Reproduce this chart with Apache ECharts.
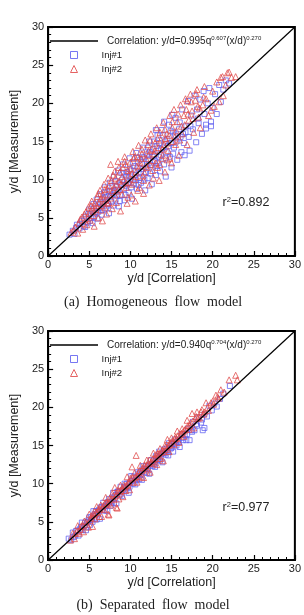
<!DOCTYPE html>
<html>
<head>
<meta charset="utf-8">
<script src="https://cdn.jsdelivr.net/npm/echarts@6/dist/echarts.min.js"></script>
<style>
  html, body { margin: 0; padding: 0; background: #fff; }
  #chart { width: 304px; height: 615px; }
</style>
</head>
<body>
<div id="chart"></div>
<script>
// correlation line y = x
const corrLine = [[0, 0], [30, 30]];

// (a) homogeneous flow model: [correlation, measurement]
const injOneA = [
  [2.6,2.8],[3.0,3.3],[3.2,2.9],[3.5,4.1],[3.8,3.6],[4.1,4.6],[4.3,3.9],[4.6,5.2],[4.8,4.4],[5.0,6.1],
  [5.2,5.0],[5.4,4.3],[5.5,6.8],[5.7,5.6],[5.9,7.4],[6.0,4.9],[6.2,6.3],[6.4,8.1],[6.5,5.4],[6.7,7.0],
  [6.9,9.0],[7.0,6.2],[7.2,7.8],[7.4,5.6],[7.5,9.6],[7.7,8.4],[7.9,6.6],[8.0,10.4],[8.2,7.4],[8.3,9.1],
  [8.5,11.2],[8.6,6.5],[8.8,8.0],[9.0,10.0],[9.1,12.0],[9.3,7.3],[9.4,9.2],[9.6,11.0],[9.8,8.3],[9.9,12.8],
  [10.0,10.3],[10.2,7.5],[10.4,9.5],[10.5,11.8],[10.7,13.5],[10.8,8.8],[11.0,10.8],[11.2,12.6],[11.3,9.6],[11.5,14.2],
  [11.6,11.4],[11.8,8.6],[12.0,13.3],[12.1,10.2],[12.3,15.0],[12.5,11.9],[12.6,9.4],[12.8,14.0],[13.0,12.4],[13.1,10.6],
  [13.3,15.8],[13.5,13.0],[13.6,11.1],[13.8,16.5],[14.0,14.2],[14.1,12.0],[14.3,10.4],[14.5,15.3],[14.7,17.2],[14.8,13.0],
  [15.0,11.6],[15.2,16.2],[15.3,14.2],[15.5,18.1],[15.7,12.6],[15.8,15.4],[16.0,17.5],[16.2,13.6],[16.3,19.2],[16.5,14.8],
  [16.6,13.2],[16.8,17.0],[17.0,20.3],[17.1,15.6],[17.2,13.8],[17.4,18.4],[17.6,16.6],[17.8,21.0],[18.0,14.9],[18.1,19.2],
  [18.3,17.4],[18.5,20.5],[18.7,16.0],[18.9,21.6],[19.0,18.6],[19.2,17.2],[19.4,20.0],[19.6,22.0],[19.8,17.6],[20.0,19.4],
  [20.3,21.2],[20.5,18.6],[20.8,22.4],[21.0,20.2],[21.3,21.8],[21.6,23.0],[22.0,22.6],[15.1,18.5],[14.1,17.6],[13.1,16.5],
  [19.2,16.7],[19.8,17.0],[5.3,5.9],[5.8,6.5],[6.1,5.8],[6.6,6.8],[6.8,8.3],[7.1,7.4],[7.3,6.8],[7.6,7.9],
  [7.8,9.2],[8.1,8.6],[8.4,7.9],[8.7,9.6],[8.9,10.9],[9.2,8.8],[9.5,10.4],[9.7,9.5],[10.1,11.2],[10.3,10.0],
  [10.6,9.9],[10.9,11.6],[11.1,10.2],[11.4,12.1],[11.7,12.9],[11.9,11.0],[12.2,12.6],[12.4,13.6],[12.7,11.6],[12.9,13.2],
  [13.2,14.4],[13.4,12.2],[13.7,14.0],[14.2,15.0],[14.4,13.6],[14.9,14.8],[15.4,15.8],[15.9,16.6],[16.4,16.0],
  [3.4,3.7],[3.9,4.2],[4.4,4.8],[4.5,3.8],[4.9,5.5],[5.1,4.6],[5.6,5.1],[6.3,7.1],[6.6,6.0],[6.9,7.7],
  [7.2,6.6],[7.5,8.5],[7.7,7.1],[8.0,8.2],[8.2,9.8],[8.5,8.7],[8.7,7.2],[8.9,9.3],[9.2,10.8],[9.4,8.0],
  [9.6,9.9],[9.9,11.4],[10.1,9.0],[10.3,12.2],[10.6,10.6],[10.8,12.9],[11.0,9.3],[11.3,11.0],[11.5,13.0],[11.7,10.0],
  [12.0,12.0],[12.2,14.2],[12.4,10.8],[12.7,13.0],[12.9,15.0],[13.2,11.8],[13.5,14.8],[13.7,13.2],[14.0,15.8],[14.3,12.8],
  [14.6,14.4],[14.9,16.4],[15.2,13.4],[15.6,15.0],[16.1,15.6],[16.7,16.2],[17.3,17.0],[18.2,18.0]
];
const injTwoA = [
  [2.8,3.1],[3.3,3.8],[3.6,3.0],[3.9,4.8],[4.2,3.5],[4.4,5.5],[4.7,4.1],[4.9,6.4],[5.1,4.7],[5.3,7.2],
  [5.5,5.3],[5.6,3.9],[5.8,6.1],[6.0,7.8],[6.1,5.0],[6.3,8.6],[6.5,6.6],[6.6,4.6],[6.8,9.4],[7.0,7.3],
  [7.1,5.5],[7.3,10.2],[7.5,8.0],[7.6,12.0],[7.8,6.2],[8.0,9.0],[8.1,11.1],[8.3,7.0],[8.5,12.4],[8.6,9.8],
  [8.8,5.9],[9.0,8.1],[9.1,11.6],[9.3,13.0],[9.5,9.0],[9.6,6.9],[9.8,10.6],[10.0,12.3],[10.1,8.0],[10.3,13.7],
  [10.5,10.0],[10.6,7.2],[10.8,11.8],[11.0,14.5],[11.1,9.0],[11.3,12.8],[11.5,10.5],[11.6,8.2],[11.8,15.2],[12.0,11.6],
  [12.2,13.8],[12.3,9.3],[12.5,16.0],[12.7,12.5],[12.8,10.2],[13.0,14.8],[13.2,16.8],[13.3,11.6],[13.5,9.9],[13.7,15.2],
  [13.9,13.2],[14.0,17.5],[14.2,11.0],[14.4,16.0],[14.6,13.8],[14.8,18.4],[15.0,12.2],[15.1,16.8],[15.3,19.2],[15.5,14.6],
  [15.7,17.6],[15.9,13.2],[16.1,19.8],[16.3,16.0],[16.5,18.4],[16.7,20.6],[16.9,14.6],[17.1,17.8],[17.3,21.2],[17.5,19.0],
  [17.7,16.2],[17.9,20.4],[18.1,21.8],[18.3,18.2],[18.5,16.8],[18.8,19.8],[19.0,22.2],[19.2,20.6],[19.5,18.4],[19.8,19.1],
  [20.0,21.6],[20.2,19.6],[20.5,22.8],[20.8,20.2],[21.0,23.4],[21.3,21.0],[21.6,22.4],[21.8,24.0],[22.3,23.4],[22.8,23.5],
  [22.0,24.1],[21.2,23.5],[18.0,21.3],[16.9,20.3],[5.0,5.6],[5.4,6.3],[5.7,7.0],[6.2,6.9],[6.4,7.5],[6.7,8.0],
  [6.9,6.4],[7.2,8.8],[7.4,7.0],[7.7,9.9],[7.9,8.6],[8.2,10.2],[8.4,8.5],[8.7,11.0],[8.9,9.4],[9.2,10.0],
  [9.4,12.0],[9.7,11.2],[9.9,9.6],[10.2,10.8],[10.4,12.8],[10.7,11.0],[10.9,13.0],[11.2,11.8],[11.4,13.4],[11.7,10.9],
  [11.9,12.8],[12.1,14.6],[12.4,12.0],[12.6,14.0],[12.9,13.4],[13.1,12.2],[13.4,14.2],[13.6,16.2],[13.8,12.8],[14.1,14.6],
  [14.3,15.4],[14.5,12.6],[14.7,15.8],[15.2,15.0],[15.6,16.4],[16.0,15.2],[16.6,17.2],[17.0,18.6],[17.6,18.0],[18.4,19.4],
  [3.1,3.4],[3.7,4.3],[4.1,5.1],[4.3,4.3],[4.6,5.8],[4.8,4.9],[5.2,6.6],[5.5,5.8],[5.9,6.6],[6.1,8.2],
  [6.4,6.0],[6.7,7.5],[6.9,8.7],[7.2,6.9],[7.4,9.2],[7.6,7.6],[7.9,10.6],[8.1,8.0],[8.3,9.4],[8.6,11.6],
  [8.8,8.7],[9.0,10.4],[9.3,12.4],[9.5,9.6],[9.7,7.7],[10.0,11.4],[10.2,9.4],[10.5,13.0],[10.7,10.4],[10.9,8.6],
  [11.2,12.2],[11.4,14.0],[11.6,9.9],[11.9,11.8],[12.2,13.2],[12.4,15.2],[12.7,11.2],[13.0,13.8],[13.3,15.4],[13.6,12.0],
  [13.9,14.0],[14.2,16.6],[14.5,14.8],[14.8,12.8],[15.1,17.6],[15.4,15.6],[15.8,18.6],[16.2,17.0],[16.8,19.2],[17.4,20.2],
  [18.2,19.6],[18.9,20.8]
];

// (b) separated flow model
const injOneB = [
  [2.5,2.8],[2.8,2.6],[3.0,3.6],[3.3,3.2],[3.4,3.8],[3.7,3.2],[3.9,4.1],[4.1,4.9],[4.2,3.9],[4.5,4.9],
  [4.6,3.9],[4.8,5.0],[5.0,5.6],[5.1,4.6],[5.3,5.3],[5.5,6.4],[5.6,5.4],[5.8,6.4],[5.9,5.3],[6.1,6.4],
  [6.3,5.4],[6.4,6.9],[6.6,6.5],[6.7,7.5],[6.9,6.5],[7.1,7.3],[7.2,6.4],[7.4,8.0],[7.5,7.6],[7.7,7.4],
  [7.9,8.8],[8.0,7.5],[8.2,8.5],[8.3,7.4],[8.5,9.0],[8.7,8.5],[8.8,9.6],[9.0,8.4],[9.1,9.2],[9.3,10.0],
  [9.5,9.1],[9.6,10.0],[9.8,8.8],[9.9,10.1],[10.1,11.0],[10.3,10.0],[10.4,10.9],[10.6,9.9],[10.7,10.7],[10.9,11.5],
  [11.1,10.6],[11.2,11.5],[11.4,10.5],[11.5,12.3],[11.7,11.5],[11.9,12.3],[12.0,11.4],[12.2,12.3],[12.3,11.3],[12.5,13.1],
  [12.7,12.3],[12.8,13.0],[13.0,12.2],[13.1,13.6],[13.3,13.1],[13.5,14.2],[13.6,13.0],[13.8,13.9],[13.9,12.8],[14.1,14.5],
  [14.3,13.8],[14.4,14.6],[14.6,13.7],[14.7,15.3],[14.9,14.6],[15.1,15.2],[15.2,14.2],[15.4,15.8],[15.6,15.0],[15.8,15.7],
  [16.0,14.8],[16.2,16.5],[16.4,15.7],[16.6,16.4],[16.8,15.7],[17.0,17.2],[17.2,15.7],[17.4,17.0],[17.6,18.1],[17.8,17.0],
  [18.0,17.8],[18.3,18.7],[18.6,18.0],[18.8,17.0],[19.0,19.1],[19.3,18.8],[19.6,20.2],[19.9,19.6],[20.2,20.5],[20.5,20.1],
  [20.9,21.1],[21.3,21.8],[22.1,22.8],[4.9,5.2],[5.7,6.0],[6.5,6.9],[7.0,7.1],[7.8,8.2],[8.4,8.9],[9.2,9.5],
  [9.7,9.6],[10.5,10.4],[11.0,11.3],[11.8,11.9],[12.6,12.5],[13.2,13.4],[14.0,14.1],[14.8,14.9],[15.5,15.4],[19.0,17.3],
  [3.1,3.0],[3.6,3.9],[4.0,4.3],[4.4,4.5],[4.7,4.3],[5.2,5.6],[5.4,5.0],[6.0,6.1],[6.2,6.6],[6.8,7.0],
  [7.3,7.6],[7.6,7.1],[8.1,8.0],[8.6,8.9],[8.9,8.7],[9.4,9.6],[9.9,9.6],[10.2,10.4],[10.8,10.5],[11.3,11.2],
  [11.6,11.9],[12.1,11.9],[12.4,12.6],[12.9,12.6],[13.4,13.2],[13.7,13.8],[14.2,14.0],[14.5,14.2],[15.0,14.7],[15.3,15.2],
  [15.9,15.5],[16.3,16.0],[16.9,16.5],[17.5,16.8],[18.1,17.6],[18.7,18.4]
];
const injTwoB = [
  [2.7,2.6],[3.0,3.5],[3.2,2.8],[3.5,3.7],[3.6,4.5],[3.8,3.5],[4.0,4.4],[4.3,3.7],[4.4,5.1],[4.7,4.7],
  [4.9,4.3],[5.0,6.0],[5.2,5.5],[5.4,4.4],[5.5,6.1],[5.7,5.4],[5.9,7.0],[6.0,6.2],[6.2,5.7],[6.4,7.2],
  [6.5,5.7],[6.7,7.1],[6.8,6.6],[7.0,8.2],[7.2,7.3],[7.3,6.0],[7.5,8.1],[7.6,7.2],[7.8,8.7],[8.0,7.9],
  [8.1,9.5],[8.3,6.9],[8.4,8.7],[8.6,8.0],[8.8,9.8],[8.9,9.1],[9.1,8.3],[9.2,9.8],[9.4,9.1],[9.6,10.9],
  [9.7,9.8],[9.9,9.2],[10.0,10.7],[10.2,12.2],[10.4,10.2],[10.5,11.4],[10.7,13.7],[10.8,10.2],[11.0,11.4],[11.2,12.4],
  [11.3,10.9],[11.5,12.1],[11.6,10.8],[11.8,12.0],[12.0,13.1],[12.1,11.8],[12.3,13.1],[12.4,11.5],[12.6,12.9],[12.8,14.0],
  [12.9,12.7],[13.1,13.8],[13.2,12.5],[13.4,13.6],[13.6,14.6],[13.7,13.3],[13.9,14.4],[14.0,13.0],[14.2,15.0],[14.4,14.5],
  [14.5,15.8],[14.7,14.2],[14.8,15.2],[15.0,16.0],[15.3,15.1],[15.5,16.1],[15.7,16.9],[15.9,15.4],[16.1,16.4],[16.3,17.2],
  [16.5,16.2],[16.7,17.2],[16.9,18.3],[17.1,17.1],[17.3,18.0],[17.5,19.2],[17.7,17.3],[17.9,18.5],[18.1,19.4],[18.4,18.6],
  [18.7,19.7],[19.0,19.4],[19.2,20.6],[19.5,19.6],[19.8,20.6],[20.1,20.4],[20.4,21.6],[20.7,21.2],[21.0,22.3],[21.4,22.0],
  [22.0,23.6],[22.8,24.2],[5.3,5.8],[6.1,6.6],[6.9,7.4],[7.7,8.0],[8.5,9.1],[9.3,9.6],[10.1,10.6],[10.9,11.0],
  [11.7,12.4],[12.5,12.7],[13.3,13.9],[14.1,14.2],[14.9,15.4],[15.6,15.9],[16.4,16.8],[17.2,17.6],[18.0,18.8],[18.9,19.1],
  [23.0,23.6],[8.4,6.8],[7.4,5.9],
  [3.3,3.5],[3.9,4.0],[4.2,4.5],[4.6,5.0],[5.1,5.2],[5.6,5.9],[5.8,6.2],[6.3,6.7],[6.6,6.8],[7.1,7.6],
  [7.4,7.5],[7.9,8.4],[8.2,8.4],[8.7,9.0],[9.0,9.4],[9.5,9.8],[9.8,10.2],[10.3,10.8],[10.6,10.9],[11.1,11.7],
  [11.4,11.7],[11.9,12.3],[12.2,12.6],[12.7,13.2],[13.0,13.3],[13.5,14.0],[13.8,14.1],[14.3,14.8],[14.6,15.0],[15.1,15.6],
  [15.4,15.9],[15.8,16.3],[16.2,16.6],[16.6,17.0],[17.0,17.6],[17.6,18.2],[18.2,18.6],[18.6,19.4],[19.4,20.0],[20.0,20.8],
  [20.6,21.4]
];

const corrText = {
  corrA: 'Correlation: y/d=0.995q{s|0.607}(x/d){s|0.270}',
  corrB: 'Correlation: y/d=0.940q{s|0.704}(x/d){s|0.270}'
};

const blue = '#5f5ff0';
const red = '#e04848';
const font = 'Liberation Sans';

const chart = echarts.init(document.getElementById('chart'));

function axisX(gridIndex) {
  return {
    type: 'value', gridIndex: gridIndex, min: 0, max: 30, interval: 5,
    name: 'y/d [Correlation]', nameLocation: 'middle', nameGap: 16,
    nameTextStyle: { color: '#222', fontSize: 12.5, fontFamily: font },
    axisLine: { show: true, lineStyle: { color: '#000', width: 2 } },
    axisTick: { show: true, inside: true, length: 5, lineStyle: { color: '#000', width: 1.2 } },
    minorTick: { show: true, splitNumber: 5, length: 3, lineStyle: { color: '#000', width: 1 } },
    axisLabel: { color: '#222', fontSize: 11, fontFamily: font, margin: 3 },
    splitLine: { show: false }
  };
}

function axisY(gridIndex) {
  return {
    type: 'value', gridIndex: gridIndex, min: 0, max: 30, interval: 5,
    name: 'y/d [Measurement]', nameLocation: 'middle', nameGap: 24,
    nameTextStyle: { color: '#222', fontSize: 12.5, fontFamily: font },
    axisLine: { show: true, lineStyle: { color: '#000', width: 2 } },
    axisTick: { show: true, inside: true, length: 5, lineStyle: { color: '#000', width: 1.2 } },
    minorTick: { show: true, splitNumber: 5, length: 3, lineStyle: { color: '#000', width: 1 } },
    axisLabel: { color: '#222', fontSize: 11, fontFamily: font, margin: 4 },
    splitLine: { show: false }
  };
}

function scatter(name, idx, data, symbol, size, color) {
  return {
    name: name, type: 'scatter', xAxisIndex: idx, yAxisIndex: idx,
    data: data, symbol: symbol, symbolSize: size,
    itemStyle: { color: 'rgba(0,0,0,0)', borderColor: color, borderWidth: 0.9, opacity: 0.85 },
    emphasis: { disabled: true }, z: 2
  };
}

function lineLegend(name, top) {
  return {
    data: [{ name: name, icon: 'rect', itemStyle: { color: '#000' } }],
    left: 50, top: top, padding: 0, selectedMode: false,
    itemWidth: 48, itemHeight: 1.5,
    formatter: n => corrText[n],
    textStyle: {
      color: '#222', fontSize: 10, fontFamily: font, lineHeight: 12, padding: [0, 0, 0, 4],
      rich: { s: { fontSize: 6, fontFamily: font, color: '#222', verticalAlign: 'top', lineHeight: 9 } }
    }
  };
}

function markerLegend(top) {
  return {
    data: [
      { name: 'Inj#1', icon: 'rect', itemStyle: { color: 'rgba(0,0,0,0)', borderColor: blue, borderWidth: 1 } },
      { name: 'Inj#2', icon: 'triangle', itemStyle: { color: 'rgba(0,0,0,0)', borderColor: red, borderWidth: 1 } }
    ],
    orient: 'vertical', left: 70, top: top, padding: 0, selectedMode: false,
    itemWidth: 7, itemHeight: 7, itemGap: 2,
    textStyle: { color: '#222', fontSize: 9.5, fontFamily: font, lineHeight: 12, padding: [0, 0, 0, 19] }
  };
}

function rSquared(y, value) {
  return {
    type: 'text', x: 246, y: y,
    style: {
      text: '{r|r}{s|2}{r|=' + value + '}', align: 'center', verticalAlign: 'middle',
      rich: {
        r: { fontSize: 12.5, fontFamily: font, fill: '#222', color: '#222', lineHeight: 14 },
        s: { fontSize: 7.5, fontFamily: font, fill: '#222', color: '#222', verticalAlign: 'top', lineHeight: 10 }
      }
    }
  };
}

function caption(y, text) {
  return {
    type: 'text', x: 153, y: y,
    style: { text: text, align: 'center', verticalAlign: 'middle', fill: '#222',
      fontSize: 14, fontFamily: 'Liberation Serif' }
  };
}

chart.setOption({
  animation: false,
  grid: [
    { left: 43, top: 27, width: 253, height: 229, show: true, borderColor: '#000', borderWidth: 2 },
    { left: 43, top: 331, width: 253, height: 229, show: true, borderColor: '#000', borderWidth: 2 }
  ],
  xAxis: [axisX(0), axisX(1)],
  yAxis: [axisY(0), axisY(1)],
  legend: [lineLegend('corrA', 35), markerLegend(49), lineLegend('corrB', 339), markerLegend(353)],
  graphic: [
    rSquared(203, '0.892'),
    rSquared(508, '0.977'),
    caption(302, '(a)  Homogeneous  flow  model'),
    caption(605, '(b)  Separated  flow  model')
  ],
  series: [
    scatter('Inj#1', 0, injOneA, 'rect', 5, blue),
    scatter('Inj#2', 0, injTwoA, 'triangle', 6, red),
    { name: 'corrA', type: 'line', xAxisIndex: 0, yAxisIndex: 0, data: corrLine, symbol: 'none',
      color: '#000', lineStyle: { color: '#000', width: 1.2 }, z: 3 },
    scatter('Inj#1', 1, injOneB, 'rect', 5, blue),
    scatter('Inj#2', 1, injTwoB, 'triangle', 6, red),
    { name: 'corrB', type: 'line', xAxisIndex: 1, yAxisIndex: 1, data: corrLine, symbol: 'none',
      color: '#000', lineStyle: { color: '#000', width: 1.2 }, z: 3 }
  ]
});

window.addEventListener('resize', () => chart.resize());
</script>
</body>
</html>
